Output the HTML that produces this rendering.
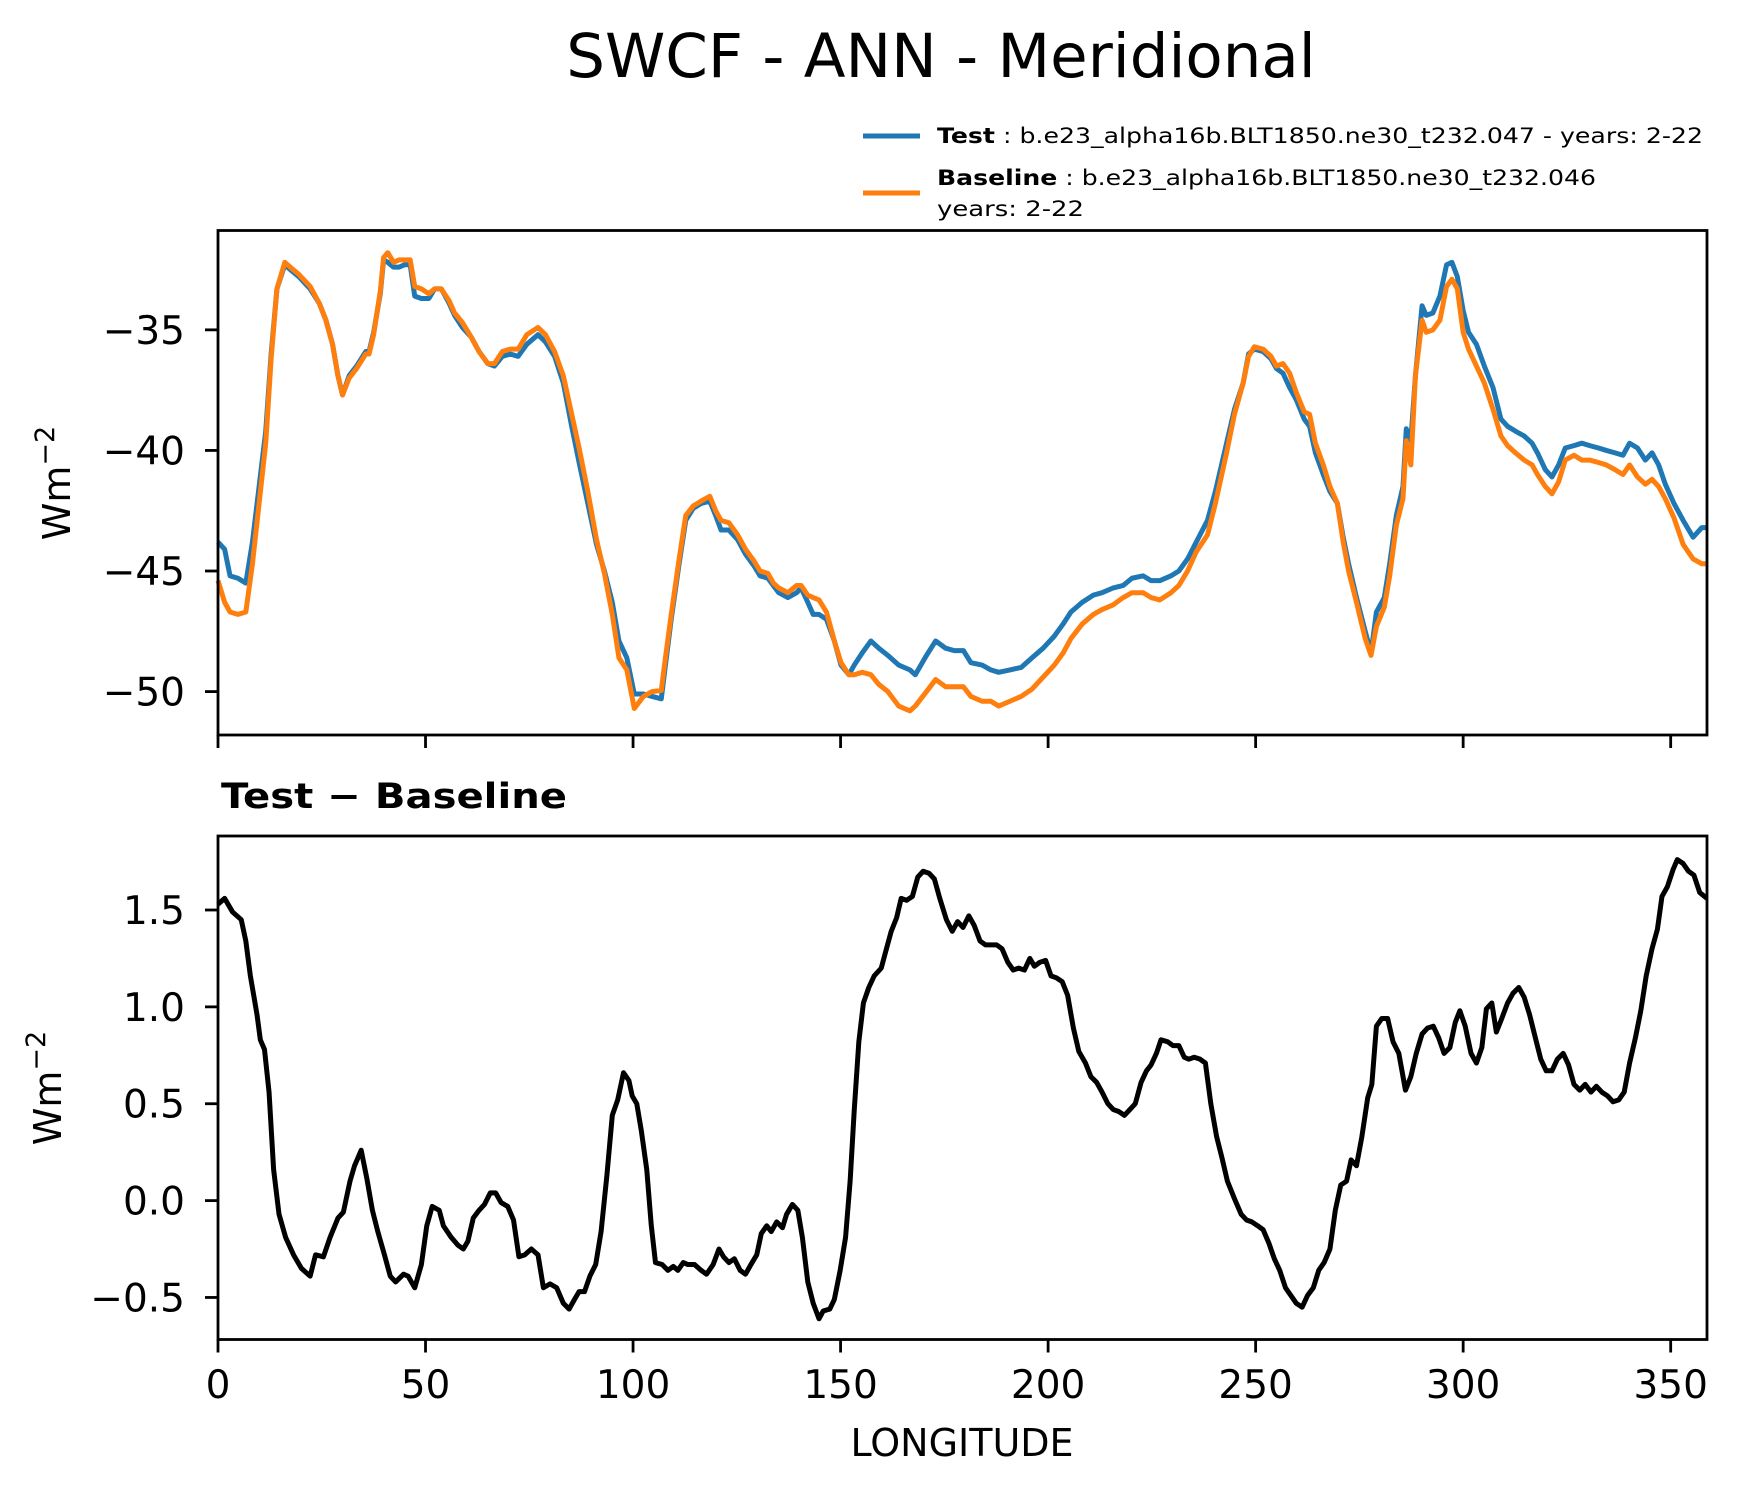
<!DOCTYPE html>
<html><head><meta charset="utf-8"><style>
html,body{margin:0;padding:0;background:#fff;}
svg{display:block;font-family:"DejaVu Sans","Liberation Sans",sans-serif;}
</style></head><body>
<svg id="chart" width="1739" height="1496" viewBox="0 0 1739 1496" xmlns="http://www.w3.org/2000/svg">
<rect width="1739" height="1496" fill="#fff"/>
<text x="941" y="77" font-size="61" text-anchor="middle">SWCF - ANN - Meridional</text>
<g>
<line x1="863" y1="136" x2="920" y2="136" stroke="#1f77b4" stroke-width="5"/>
<text x="937" y="143" font-size="21" textLength="766" lengthAdjust="spacingAndGlyphs"><tspan font-weight="bold">Test</tspan> : b.e23_alpha16b.BLT1850.ne30_t232.047 - years: 2-22</text>
<line x1="863" y1="193" x2="920" y2="193" stroke="#ff7f0e" stroke-width="5"/>
<text x="937" y="185" font-size="21" textLength="659" lengthAdjust="spacingAndGlyphs"><tspan font-weight="bold">Baseline</tspan> : b.e23_alpha16b.BLT1850.ne30_t232.046</text>
<text x="937" y="216" font-size="21" textLength="147" lengthAdjust="spacingAndGlyphs">years: 2-22</text>
</g>
<text x="221" y="808" font-size="35" font-weight="bold" textLength="346" lengthAdjust="spacingAndGlyphs">Test − Baseline</text>
<text x="962" y="1456" font-size="38" text-anchor="middle">LONGITUDE</text>
<text transform="translate(70,483) rotate(-90)" font-size="38" text-anchor="middle">Wm<tspan dy="-16" font-size="27">−2</tspan></text>
<text transform="translate(61,1088) rotate(-90)" font-size="38" text-anchor="middle">Wm<tspan dy="-16" font-size="27">−2</tspan></text>
<g id="plots"></g>
</svg>
<script>
const lonTop = [0,1.6,2.9,4.8,6.7,8.3,11.5,12.8,14.2,16.1,17.4,19.5,22.2,24.4,26.0,27.6,28.9,30.0,31.6,33.4,35.6,36.4,37.5,39.1,39.9,40.9,42.3,43.6,45.0,46.3,47.4,49.0,50.8,52.2,53.8,55.7,57.0,58.9,61.0,62.9,65.0,66.6,68.5,70.4,72.3,74.4,77.1,78.9,81.1,83.2,85.1,87.0,89.1,91.2,93.1,95.0,96.6,98.5,100.3,102.5,104.6,106.8,107.8,109.2,111.1,112.7,114.5,116.4,118.5,119.9,121.2,123.1,125.2,127.1,129.2,130.6,132.5,133.8,135.1,137.3,139.4,140.5,142.1,143.4,144.8,146.6,148.5,150.1,152.0,153.3,155.2,157.3,159.2,161.4,164.0,166.7,168.0,170.7,172.9,175.3,177.4,179.6,181.4,184.1,186.2,188.1,190.8,193.5,196.1,198.8,201.5,203.6,205.5,208.2,210.9,213.0,215.7,218.1,220.2,222.9,224.8,226.9,229.6,231.5,233.6,235.7,238.4,240.3,243.0,244.9,247.0,248.3,249.7,251.8,253.7,255.0,256.6,258.2,259.8,261.7,263.0,264.4,266.3,267.9,269.7,271.1,272.4,274.3,276.4,277.8,279.1,281.0,282.3,283.9,285.5,286.3,287.4,288.5,290.1,291.1,292.7,294.4,296.0,297.3,298.6,300.0,301.3,303.2,305.1,307.2,309.1,310.7,312.6,314.7,316.6,317.9,319.8,321.4,323.0,324.6,326.7,328.6,330.5,332.6,334.5,336.6,338.5,340.1,342.0,343.9,345.5,347.1,348.7,350.8,353.0,355.4,357.5,358.75];
const testValues = [-43.8,-44.1,-45.2,-45.3,-45.5,-43.8,-39.2,-36.0,-33.3,-32.3,-32.5,-32.8,-33.3,-33.9,-34.6,-35.6,-36.9,-37.7,-36.9,-36.5,-35.9,-35.9,-35.1,-33.5,-32.1,-32.2,-32.4,-32.4,-32.3,-32.3,-33.6,-33.7,-33.7,-33.3,-33.3,-33.9,-34.4,-34.9,-35.3,-35.9,-36.4,-36.5,-36.1,-36.0,-36.1,-35.6,-35.2,-35.5,-36.1,-37.2,-38.9,-40.5,-42.2,-43.9,-45.0,-46.3,-47.9,-48.6,-50.1,-50.1,-50.2,-50.3,-48.9,-47.0,-44.7,-42.9,-42.4,-42.2,-42.1,-42.7,-43.3,-43.3,-43.7,-44.3,-44.8,-45.2,-45.3,-45.6,-45.9,-46.1,-45.9,-45.7,-46.3,-46.8,-46.8,-47.0,-47.9,-48.9,-49.3,-48.9,-48.4,-47.9,-48.2,-48.5,-48.9,-49.1,-49.3,-48.5,-47.9,-48.2,-48.3,-48.3,-48.8,-48.9,-49.1,-49.2,-49.1,-49.0,-48.6,-48.2,-47.7,-47.2,-46.7,-46.3,-46.0,-45.9,-45.7,-45.6,-45.3,-45.2,-45.4,-45.4,-45.2,-45.0,-44.5,-43.8,-42.9,-41.7,-39.7,-38.3,-37.2,-36.0,-35.8,-35.9,-36.2,-36.6,-36.8,-37.4,-37.9,-38.7,-39.0,-40.1,-41.0,-41.7,-42.2,-43.6,-44.7,-46.1,-47.5,-48.4,-46.7,-46.1,-44.7,-42.7,-41.5,-39.1,-39.6,-36.9,-34.0,-34.4,-34.3,-33.6,-32.3,-32.2,-32.8,-34.2,-35.1,-35.6,-36.5,-37.4,-38.7,-39.0,-39.2,-39.4,-39.7,-40.1,-40.8,-41.1,-40.6,-39.9,-39.8,-39.7,-39.8,-39.9,-40.0,-40.1,-40.2,-39.7,-39.9,-40.4,-40.1,-40.6,-41.4,-42.2,-42.9,-43.6,-43.2,-43.2];
const baselineValues = [-45.4,-46.3,-46.7,-46.8,-46.7,-44.7,-39.7,-36.2,-33.3,-32.2,-32.4,-32.7,-33.2,-33.9,-34.6,-35.6,-36.9,-37.7,-37.0,-36.6,-36.0,-36.0,-35.2,-33.4,-32.0,-31.8,-32.2,-32.1,-32.1,-32.1,-33.2,-33.3,-33.5,-33.3,-33.3,-33.8,-34.3,-34.7,-35.3,-35.9,-36.4,-36.4,-35.9,-35.8,-35.8,-35.2,-34.9,-35.2,-35.9,-36.9,-38.4,-39.9,-41.7,-43.7,-45.1,-46.8,-48.6,-49.1,-50.7,-50.2,-50.0,-49.95,-48.6,-46.8,-44.5,-42.7,-42.3,-42.1,-41.9,-42.5,-42.9,-43.0,-43.5,-44.1,-44.6,-45.0,-45.1,-45.5,-45.7,-45.9,-45.6,-45.6,-46.0,-46.1,-46.2,-46.7,-47.9,-48.8,-49.3,-49.3,-49.2,-49.3,-49.7,-50.0,-50.6,-50.8,-50.6,-50.0,-49.5,-49.8,-49.8,-49.8,-50.2,-50.4,-50.4,-50.6,-50.4,-50.2,-49.9,-49.4,-48.9,-48.4,-47.8,-47.2,-46.8,-46.6,-46.4,-46.1,-45.9,-45.9,-46.1,-46.2,-45.9,-45.6,-45.0,-44.2,-43.5,-42.2,-40.1,-38.5,-37.2,-36.1,-35.7,-35.8,-36.1,-36.5,-36.4,-36.8,-37.6,-38.4,-38.5,-39.7,-40.6,-41.5,-42.2,-43.8,-45.0,-46.3,-47.8,-48.5,-47.3,-46.5,-45.2,-43.1,-42.0,-39.6,-40.6,-36.9,-34.6,-35.1,-35.0,-34.6,-33.2,-32.9,-33.3,-35.1,-35.8,-36.5,-37.2,-38.3,-39.4,-39.8,-40.1,-40.4,-40.6,-41.0,-41.5,-41.8,-41.3,-40.4,-40.2,-40.4,-40.4,-40.5,-40.6,-40.8,-41.0,-40.6,-41.1,-41.4,-41.2,-41.5,-42.0,-42.8,-43.9,-44.5,-44.7,-44.7];
const lonDiff = [0,1.6,3.5,5.6,6.7,7.8,9.4,10.2,11.2,12.3,13.4,14.7,16.3,18.2,20.1,22.2,23.5,25.4,27.0,28.9,30.2,31.8,32.9,34.5,35.9,37.2,38.5,40.1,41.5,42.8,44.7,45.8,47.4,49.0,50.3,51.6,53.3,54.3,56.2,57.8,59.1,60.2,61.5,62.9,64.2,65.6,66.9,68.2,69.8,71.2,72.5,73.9,75.5,77.1,78.4,80.0,81.6,83.2,84.6,85.9,87.0,88.3,89.6,91.0,92.3,93.7,95.0,96.3,97.7,99.0,99.8,100.9,102.0,103.3,104.4,105.4,107.0,108.4,109.7,110.8,112.1,113.2,114.8,116.4,117.7,119.3,120.7,121.8,123.1,124.4,125.8,127.1,128.4,129.8,130.9,132.2,133.3,134.6,136.0,137.0,138.4,139.7,140.8,142.1,143.4,144.8,145.8,147.4,148.5,149.9,151.2,152.3,153.3,154.4,155.5,156.8,158.1,159.8,160.8,162.2,163.5,164.6,165.9,167.3,168.6,169.9,171.3,172.6,173.9,175.5,176.9,178.2,179.5,180.9,182.2,183.6,184.9,186.2,187.6,188.9,190.3,191.6,192.9,194.3,195.6,196.7,198.0,199.4,200.7,202.0,203.4,204.7,206.1,207.4,209.0,210.3,211.7,213.0,214.4,215.7,217.0,218.4,219.7,221.0,222.4,223.7,224.8,226.1,227.2,228.8,230.1,231.5,232.8,233.9,235.2,236.6,237.9,239.2,240.6,241.9,243.2,244.9,246.5,247.8,249.1,250.5,251.8,253.2,254.5,255.8,257.2,258.5,259.8,261.2,262.5,263.9,265.2,266.5,267.9,269.2,270.5,271.9,273.0,274.3,275.6,277.0,278.0,279.1,280.4,281.8,283.1,284.5,286.1,287.4,288.7,290.1,291.4,292.8,294.1,295.4,296.8,298.1,299.2,300.5,301.9,303.2,304.5,305.6,306.9,308.0,309.3,310.7,312.0,313.4,314.7,316.0,317.4,318.7,320.0,321.4,322.7,324.1,325.4,326.7,328.1,329.4,330.8,332.1,333.4,334.8,336.1,337.5,338.8,340.1,341.5,342.8,344.1,345.5,346.8,347.9,349.2,350.6,351.6,353.0,354.3,355.6,357.0,358.75];
const diffValues = [1.53,1.56,1.49,1.45,1.34,1.16,0.96,0.83,0.78,0.56,0.16,-0.07,-0.19,-0.28,-0.35,-0.39,-0.28,-0.29,-0.19,-0.09,-0.06,0.10,0.18,0.26,0.11,-0.05,-0.16,-0.28,-0.39,-0.42,-0.38,-0.39,-0.45,-0.33,-0.13,-0.03,-0.05,-0.13,-0.19,-0.23,-0.25,-0.21,-0.09,-0.05,-0.02,0.04,0.04,-0.01,-0.03,-0.10,-0.29,-0.28,-0.25,-0.28,-0.45,-0.43,-0.45,-0.53,-0.56,-0.51,-0.47,-0.47,-0.39,-0.33,-0.16,0.13,0.44,0.52,0.66,0.62,0.54,0.50,0.36,0.16,-0.13,-0.32,-0.33,-0.36,-0.34,-0.36,-0.32,-0.33,-0.33,-0.36,-0.38,-0.33,-0.25,-0.29,-0.32,-0.30,-0.36,-0.38,-0.33,-0.28,-0.17,-0.13,-0.16,-0.11,-0.14,-0.07,-0.02,-0.05,-0.19,-0.42,-0.53,-0.61,-0.57,-0.56,-0.51,-0.36,-0.19,0.10,0.47,0.82,1.02,1.10,1.16,1.20,1.28,1.39,1.46,1.56,1.55,1.57,1.67,1.70,1.69,1.66,1.56,1.45,1.39,1.44,1.41,1.47,1.42,1.34,1.32,1.32,1.32,1.30,1.23,1.19,1.20,1.19,1.25,1.21,1.23,1.24,1.16,1.15,1.13,1.06,0.89,0.77,0.71,0.64,0.61,0.56,0.50,0.47,0.46,0.44,0.47,0.50,0.61,0.67,0.70,0.76,0.83,0.82,0.80,0.80,0.74,0.73,0.74,0.73,0.71,0.50,0.33,0.22,0.10,0.01,-0.07,-0.10,-0.11,-0.13,-0.15,-0.22,-0.30,-0.36,-0.45,-0.49,-0.53,-0.55,-0.49,-0.45,-0.36,-0.32,-0.25,-0.05,0.08,0.10,0.21,0.18,0.33,0.53,0.60,0.90,0.94,0.94,0.82,0.76,0.57,0.64,0.76,0.86,0.89,0.90,0.84,0.76,0.79,0.92,0.98,0.90,0.76,0.71,0.79,0.99,1.02,0.87,0.94,1.02,1.07,1.10,1.05,0.96,0.84,0.73,0.67,0.67,0.73,0.76,0.70,0.60,0.57,0.60,0.56,0.59,0.56,0.54,0.51,0.52,0.56,0.71,0.84,0.98,1.16,1.30,1.40,1.57,1.62,1.71,1.76,1.74,1.70,1.68,1.59,1.56];
const xTicks = [0,50,100,150,200,250,300,350];
const topYTicks = [-35,-40,-45,-50];
const topYTickLabels = ["−35","−40","−45","−50"];
const bottomYTicks = [1.5,1.0,0.5,0.0,-0.5];
const bottomYTickLabels = ["1.5","1.0","0.5","0.0","−0.5"];

const NS = "http://www.w3.org/2000/svg";
const g = document.getElementById('plots');
const X0 = 218, X1 = 1707, XMIN = 0, XMAX = 358.75;
function xScale(v){ return X0 + (v - XMIN) / (XMAX - XMIN) * (X1 - X0); }
function mkY(top, bottom, vmax, vmin){ return v => top + (vmax - v) / (vmax - vmin) * (bottom - top); }
const topPanel = {top:230.5, bottom:735, y: mkY(230.5, 735, -30.88, -51.8)};
const botPanel = {top:836, bottom:1339.5, y: mkY(836, 1339.5, 1.882, -0.717)};
function el(tag, attrs){ const e = document.createElementNS(NS, tag); for (const k in attrs) e.setAttribute(k, attrs[k]); return e; }

function drawLine(xs, ys, yf, color, name){
  let d = '';
  for (let i = 0; i < xs.length; i++) d += (i ? 'L' : 'M') + xScale(xs[i]).toFixed(2) + ' ' + yf(ys[i]).toFixed(2);
  const p = el('path', {d: d, fill: 'none', stroke: color, 'stroke-width': 5, 'stroke-linejoin': 'round'});
  
  
  g.appendChild(p);
}
function drawFrame(panel, name){
  const r = el('rect', {x: X0, y: panel.top, width: X1 - X0, height: panel.bottom - panel.top, fill: 'none', stroke: '#000', 'stroke-width': 2.8});
  
  
  g.appendChild(r);
}
function drawXTicks(panel, withLabels, prefix){
  xTicks.forEach(t => {
    const x = xScale(t);
    const l = el('line', {x1: x, x2: x, y1: panel.bottom, y2: panel.bottom + 13, stroke: '#000', 'stroke-width': 2.8});
    
    
    g.appendChild(l);
    if (withLabels){
      const tx = el('text', {x: x, y: 1398, 'font-size': 39, 'text-anchor': 'middle'});
      tx.textContent = String(t);
      
      
      g.appendChild(tx);
    }
  });
}
function drawYTicks(panel, ticks, labels, prefix){
  ticks.forEach((t, i) => {
    const y = panel.y(t);
    const l = el('line', {x1: X0 - 13, x2: X0, y1: y, y2: y, stroke: '#000', 'stroke-width': 2.8});
    
    
    g.appendChild(l);
    const tx = el('text', {x: X0 - 33, y: y + 14, 'font-size': 39, 'text-anchor': 'end'});
    tx.textContent = labels[i];
    
    
    g.appendChild(tx);
  });
}
drawLine(lonTop, testValues, topPanel.y, '#1f77b4', 'test-series-line');
drawLine(lonTop, baselineValues, topPanel.y, '#ff7f0e', 'baseline-series-line');
drawLine(lonDiff, diffValues, botPanel.y, '#000000', 'difference-series-line');
drawFrame(topPanel, 'top-plot-frame');
drawFrame(botPanel, 'bottom-plot-frame');
drawXTicks(topPanel, false, 'top');
drawXTicks(botPanel, true, 'bottom');
drawYTicks(topPanel, topYTicks, topYTickLabels, 'top');
drawYTicks(botPanel, bottomYTicks, bottomYTickLabels, 'bottom');
</script>
</body></html>
